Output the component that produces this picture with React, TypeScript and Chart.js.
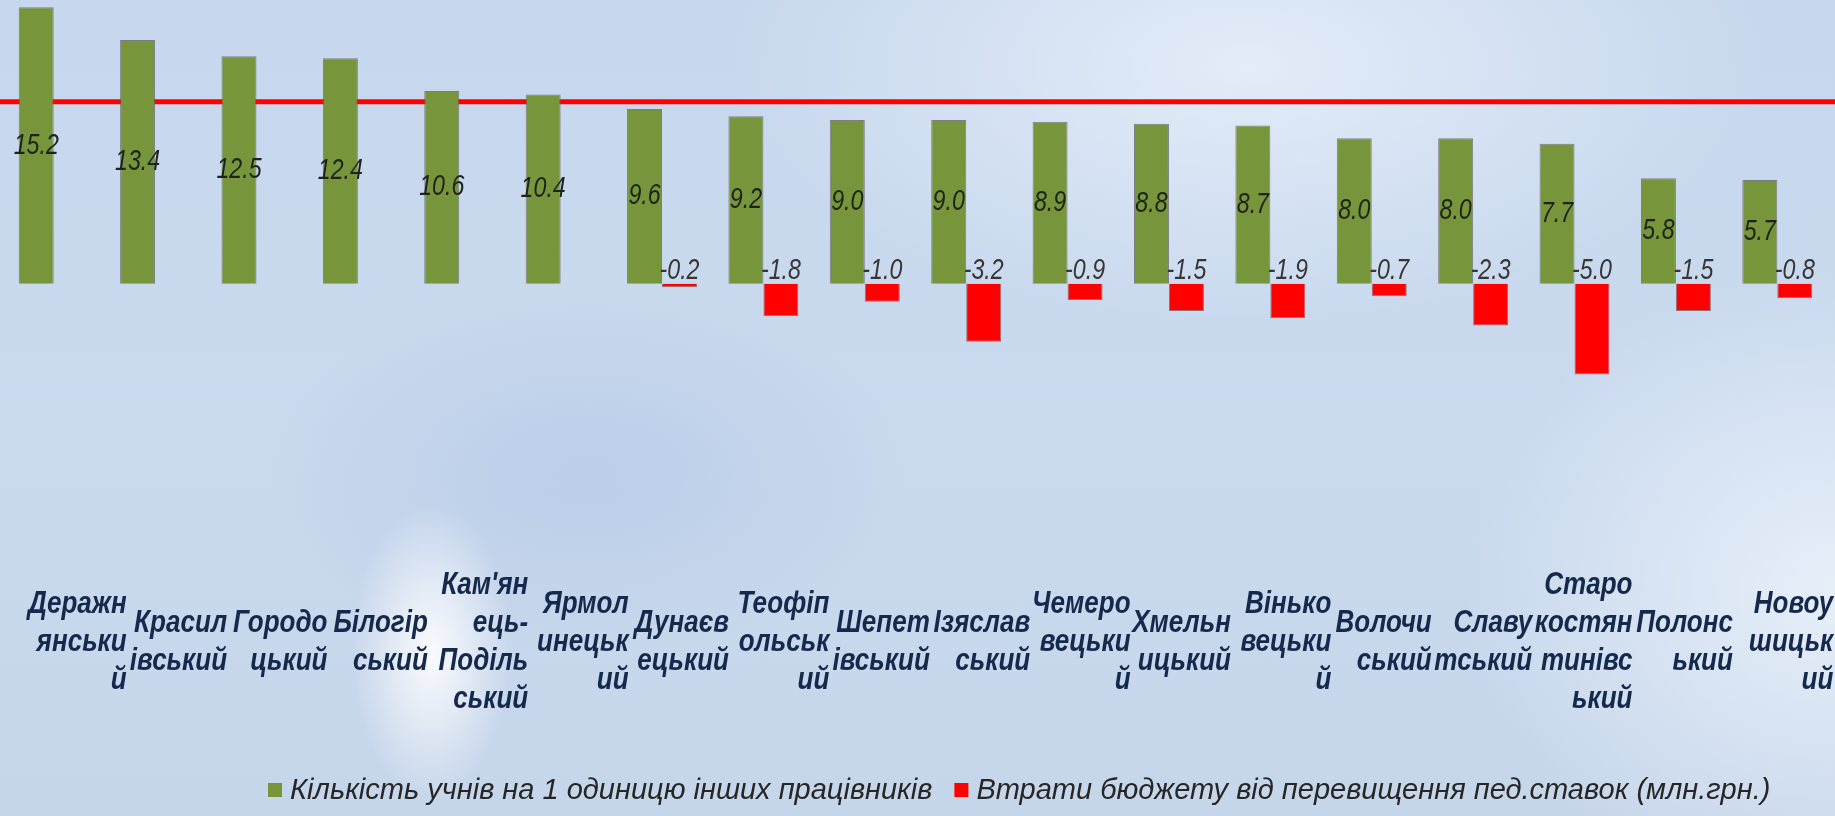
import React, { useEffect, useRef } from "react";
import { Chart, registerables } from "chart.js";

Chart.register(...registerables);

// ---------- data ----------
const districtLabels: string[][] = [
  ["Деражн", "янськи", "й"],
  ["Красил", "івський"],
  ["Городо", "цький"],
  ["Білогір", "ський"],
  ["Кам'ян", "ець-", "Поділь", "ський"],
  ["Ярмол", "инецьк", "ий"],
  ["Дунаєв", "ецький"],
  ["Теофіп", "ольськ", "ий"],
  ["Шепет", "івський"],
  ["Ізяслав", "ський"],
  ["Чемеро", "вецьки", "й"],
  ["Хмельн", "ицький"],
  ["Вінько", "вецьки", "й"],
  ["Волочи", "ський"],
  ["Славу", "тський"],
  ["Старо", "костян", "тинівс", "ький"],
  ["Полонс", "ький"],
  ["Новоу", "шицьк", "ий"],
];

const studentsPerOtherStaff: number[] = [
  15.2, 13.4, 12.5, 12.4, 10.6, 10.4, 9.6, 9.2, 9.0, 9.0, 8.9, 8.8, 8.7, 8.0, 8.0, 7.7, 5.8, 5.7,
];

const budgetLosses: (number | null)[] = [
  null, null, null, null, null, null, -0.2, -1.8, -1.0, -3.2, -0.9, -1.5, -1.9, -0.7, -2.3, -5.0, -1.5, -0.8,
];

const seriesNames: string[] = [
  "Кількість учнів на 1 одиницю інших працівників",
  "Втрати бюджету від перевищення пед.ставок (млн.грн.)",
];

const normLevel = 10;
const yMin = -15.2;
const yMax = 15.6;

// ---------- styles ----------
const SANS = '"Liberation Sans", Arial, sans-serif';
const GREEN = "#77963B";
const RED = "#FF0000";
const SERIES_COLORS = [GREEN, RED];

// condensed text helper (narrow italic look)
function drawCondensed(ctx: CanvasRenderingContext2D, text: string, x: number, y: number, sx: number) {
  ctx.save();
  ctx.translate(x, y);
  ctx.scale(sx, 1);
  ctx.fillText(text, 0, 0);
  ctx.restore();
}

const normLinePlugin = {
  id: "normLine",
  beforeDatasetsDraw(chart: any) {
    const { ctx } = chart;
    const y = chart.scales.y.getPixelForValue(normLevel);
    ctx.save();
    ctx.strokeStyle = RED;
    ctx.lineWidth = 5;
    ctx.beginPath();
    ctx.moveTo(0, y);
    ctx.lineTo(chart.width, y);
    ctx.stroke();
    ctx.restore();
  },
};

const valueLabelPlugin = {
  id: "valueLabels",
  afterDatasetsDraw(chart: any) {
    const { ctx } = chart;
    ctx.save();
    ctx.font = `italic 29px ${SANS}`;
    ctx.textAlign = "center";
    chart.data.datasets.forEach((ds: any, di: number) => {
      const meta = chart.getDatasetMeta(di);
      meta.data.forEach((bar: any, i: number) => {
        const v = ds.data[i];
        if (v === null || v === undefined) return;
        const { x, y, base } = bar.getProps(["x", "y", "base"], true);
        const text = v.toFixed(1);
        if (di === 0) {
          ctx.fillStyle = "#1e2319";
          ctx.textBaseline = "middle";
          drawCondensed(ctx, text, x, (y + base) / 2, 0.8);
        } else {
          ctx.fillStyle = "#363636";
          ctx.textBaseline = "alphabetic";
          drawCondensed(ctx, text, x, base - 5, 0.8);
        }
      });
    });
    ctx.restore();
  },
};

const categoryLabelPlugin = {
  id: "categoryLabels",
  afterDraw(chart: any) {
    const { ctx, chartArea } = chart;
    const xs = chart.scales.x;
    const lineH = 38;
    ctx.save();
    ctx.font = `italic bold 31px ${SANS}`;
    ctx.fillStyle = "#15294c";
    ctx.textAlign = "right";
    ctx.textBaseline = "middle";
    const cy = chartArea.bottom + 82;
    districtLabels.forEach((lines, i) => {
      const right = xs.getPixelForValue(i) + 73 - i;
      lines.forEach((line, k) => {
        const y = cy + (k - (lines.length - 1) / 2) * lineH;
        drawCondensed(ctx, line, right, y, 0.84);
      });
    });
    ctx.restore();
  },
};

const legendPlugin = {
  id: "customLegend",
  afterDraw(chart: any) {
    const { ctx } = chart;
    const box = 14;
    const gap = 8;
    const itemGap = 22;
    ctx.save();
    ctx.font = `italic 29px ${SANS}`;
    ctx.textBaseline = "middle";
    ctx.textAlign = "left";
    let x = 268;
    const y = 790;
    seriesNames.forEach((name, i) => {
      ctx.fillStyle = SERIES_COLORS[i];
      ctx.fillRect(x, y - box / 2, box, box);
      x += box + gap;
      ctx.fillStyle = "#262626";
      ctx.fillText(name, x, y + 1);
      x += ctx.measureText(name).width + itemGap;
    });
    ctx.restore();
  },
};

export default function App() {
  const canvasRef = useRef<HTMLCanvasElement | null>(null);

  useEffect(() => {
    if (!canvasRef.current) return;
    const chart = new Chart(canvasRef.current, {
      type: "bar",
      data: {
        labels: districtLabels.map((l) => l.join("")),
        datasets: [
          {
            label: seriesNames[0],
            data: studentsPerOtherStaff,
            backgroundColor: GREEN,
            borderColor: "rgba(95,95,95,0.75)",
            borderWidth: 1,
          },
          {
            label: seriesNames[1],
            data: budgetLosses as any,
            backgroundColor: RED,
            borderColor: "rgba(120,70,70,0.7)",
            borderWidth: 1,
          },
        ],
      },
      options: {
        responsive: false,
        animation: false,
        devicePixelRatio: 1,
        layout: { padding: { left: 3, right: 7, top: 0, bottom: 256 } },
        datasets: {
          bar: { categoryPercentage: 0.69, barPercentage: 1 },
        },
        scales: {
          x: { display: false },
          y: { display: false, min: yMin, max: yMax },
        },
        plugins: {
          legend: { display: false },
          tooltip: { enabled: false },
        },
      },
      plugins: [normLinePlugin, valueLabelPlugin, categoryLabelPlugin, legendPlugin],
    });
    return () => chart.destroy();
  }, []);

  return (
    <div
      style={{
        position: "fixed",
        left: 0,
        top: 0,
        width: 1835,
        height: 816,
        overflow: "hidden",
        background:
          "radial-gradient(ellipse 80px 150px at 23.5% 80%, rgba(255,255,255,0.9), rgba(255,255,255,0) 100%)," +
          "radial-gradient(ellipse 520px 260px at 68% 8%, rgba(232,240,250,0.85), rgba(232,240,250,0) 100%)," +
          "radial-gradient(ellipse 380px 320px at 100% 72%, rgba(236,243,251,0.85), rgba(236,243,251,0) 100%)," +
          "radial-gradient(ellipse 320px 180px at 32% 58%, rgba(178,198,228,0.6), rgba(178,198,228,0) 100%)," +
          "linear-gradient(180deg, #c7d7ed 0%, #c9d9ee 55%, #c5d5ea 100%)",
      }}
    >
      <canvas ref={canvasRef} width={1835} height={816} style={{ display: "block" }} />
    </div>
  );
}
